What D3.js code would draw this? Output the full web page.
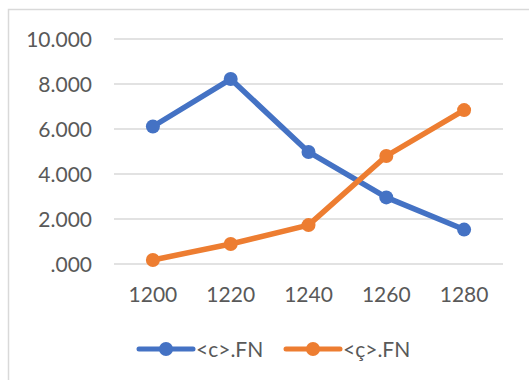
<!DOCTYPE html>
<html>
<head>
<meta charset="utf-8">
<script src="https://cdn.jsdelivr.net/npm/d3@7"></script>
<style>
  html, body { margin: 0; padding: 0; background: #fff; }
  svg { display: block; }
  text { font-family: Lato, "Open Sans", sans-serif; fill: #595959; }
</style>
</head>
<body>
<svg id="chart" width="529" height="380"></svg>
<script>
// Categories and series
const years = ["1200", "1220", "1240", "1260", "1280"];
const seriesC = [6.11, 8.22, 4.98, 2.96, 1.53];
const seriesCedilla = [0.18, 0.89, 1.73, 4.80, 6.84];
const seriesNames = ["<c>.FN", "<ç>.FN"];
const seriesColors = ["#4472C4", "#ED7D31"];
const yTicks = [0, 2, 4, 6, 8, 10];

const svg = d3.select("#chart");
const FONT = 21;

// Chart frame
svg.append("rect")
  .attr("x", 8.5).attr("y", 9.5)
  .attr("width", 540).attr("height", 400)
  .attr("fill", "#fff")
  .attr("stroke", "#d9d9d9")
  .attr("stroke-width", 1.5);

const plot = { left: 114, right: 503, top: 39, bottom: 264 };

const x = d3.scaleBand().domain(years).range([plot.left, plot.right]);
const y = d3.scaleLinear().domain([0, 10]).range([plot.bottom, plot.top]);

// Axis numbers use "." as the thousands separator, e.g. 10.000 and .000
const fmt = v => v === 0 ? ".000" : d3.format(".0f")(v) + ".000";

// Horizontal gridlines
svg.append("g")
  .selectAll("line")
  .data(yTicks)
  .join("line")
  .attr("x1", plot.left).attr("x2", plot.right)
  .attr("y1", d => y(d)).attr("y2", d => y(d))
  .attr("stroke", "#d9d9d9")
  .attr("stroke-width", 1.5);

// Y axis labels
const yAxis = d3.axisLeft(y).tickValues(yTicks).tickFormat(fmt).tickSize(0).tickPadding(0);
const gy = svg.append("g").attr("transform", `translate(92,0)`).call(yAxis);
gy.select(".domain").remove();
gy.selectAll("text")
  .attr("font-size", FONT)
  .attr("font-family", "Lato, 'Open Sans', sans-serif")
  .attr("fill", "#595959")
  .attr("dy", "0.36em");

// X axis labels
const xAxis = d3.axisBottom(x).tickSize(0).tickPadding(0);
const gx = svg.append("g").attr("transform", `translate(0,${plot.bottom})`).call(xAxis);
gx.select(".domain").remove();
gx.selectAll("text")
  .attr("font-size", FONT)
  .attr("font-family", "Lato, 'Open Sans', sans-serif")
  .attr("fill", "#595959")
  .attr("y", 38)
  .attr("dy", 0);

// Series lines and markers
const series = [seriesC, seriesCedilla];
const line = d3.line()
  .x((d, i) => x(years[i]) + x.bandwidth() / 2)
  .y(d => y(d));

series.forEach((vals, si) => {
  svg.append("path")
    .datum(vals)
    .attr("d", line)
    .attr("fill", "none")
    .attr("stroke", seriesColors[si])
    .attr("stroke-width", 5.5)
    .attr("stroke-linejoin", "round")
    .attr("stroke-linecap", "round");
  svg.append("g")
    .selectAll("circle")
    .data(vals)
    .join("circle")
    .attr("cx", (d, i) => x(years[i]) + x.bandwidth() / 2)
    .attr("cy", d => y(d))
    .attr("r", 7)
    .attr("fill", seriesColors[si]);
});

// Legend
const legendItems = [
  { name: seriesNames[0], color: seriesColors[0], x: 139 },
  { name: seriesNames[1], color: seriesColors[1], x: 286 }
];
const ly = 349;
const lg = svg.append("g");
legendItems.forEach(it => {
  lg.append("line")
    .attr("x1", it.x).attr("x2", it.x + 54)
    .attr("y1", ly).attr("y2", ly)
    .attr("stroke", it.color)
    .attr("stroke-width", 5)
    .attr("stroke-linecap", "round");
  lg.append("circle")
    .attr("cx", it.x + 27).attr("cy", ly).attr("r", 7)
    .attr("fill", it.color);
  lg.append("text")
    .attr("x", it.x + 57).attr("y", ly)
    .attr("dy", "0.36em")
    .attr("font-size", FONT)
    .text(it.name);
});
</script>
</body>
</html>
